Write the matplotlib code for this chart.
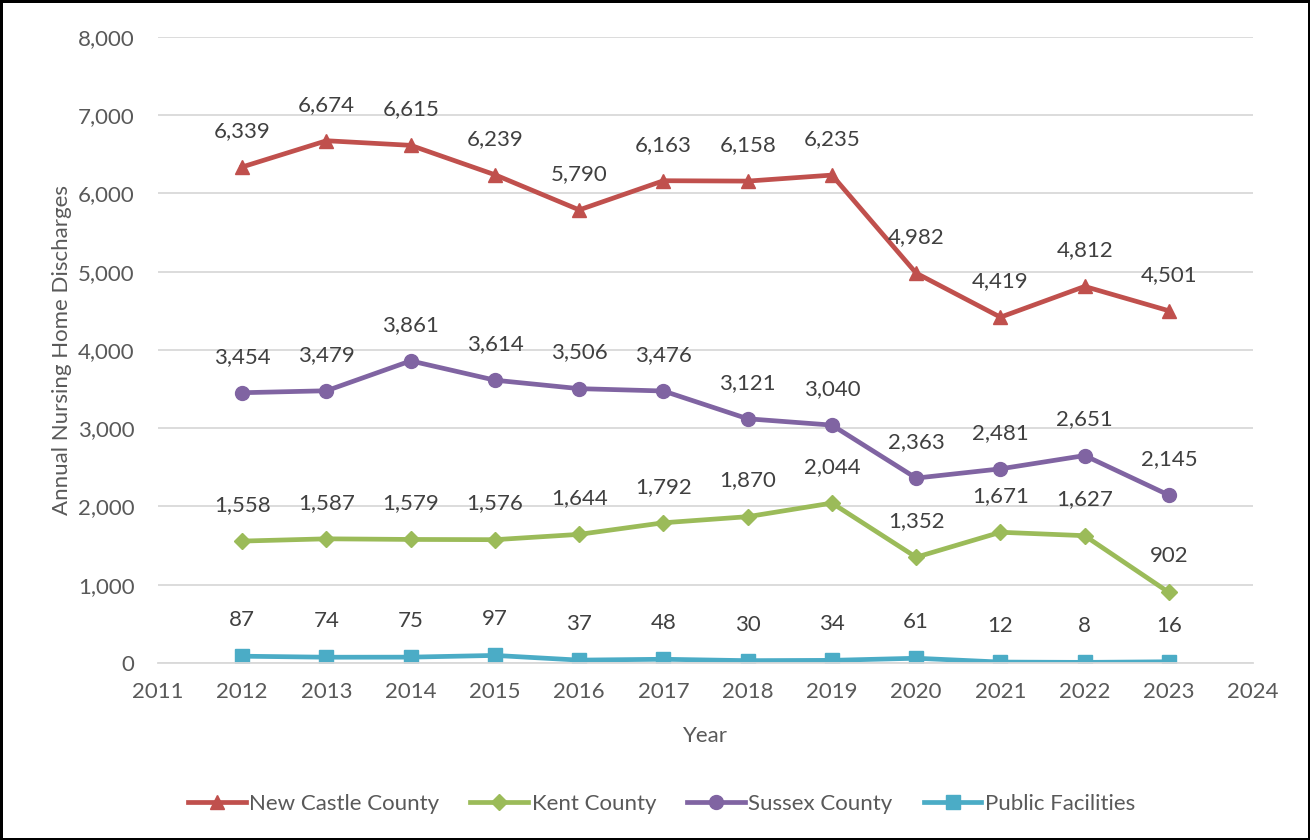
import matplotlib
matplotlib.use("Agg")
import matplotlib.pyplot as plt
from matplotlib.ticker import FuncFormatter, MultipleLocator

plt.rcParams['font.family'] = ['Lato', 'DejaVu Sans']

years = [2012, 2013, 2014, 2015, 2016, 2017, 2018, 2019, 2020, 2021, 2022, 2023]
new_castle = [6339, 6674, 6615, 6239, 5790, 6163, 6158, 6235, 4982, 4419, 4812, 4501]
kent = [1558, 1587, 1579, 1576, 1644, 1792, 1870, 2044, 1352, 1671, 1627, 902]
sussex = [3454, 3479, 3861, 3614, 3506, 3476, 3121, 3040, 2363, 2481, 2651, 2145]
public = [87, 74, 75, 97, 37, 48, 30, 34, 61, 12, 8, 16]

series = [
    ("New Castle County", new_castle, "#C0504D", "^"),
    ("Kent County", kent, "#9BBB59", "D"),
    ("Sussex County", sussex, "#8064A2", "o"),
    ("Public Facilities", public, "#4BACC6", "s"),
]

fig = plt.figure(figsize=(13.1, 8.4), dpi=100)
fig.patch.set_edgecolor("black")
fig.patch.set_linewidth(2.5)
ax = fig.add_axes([0.1206, 0.2107, 0.836, 0.7453])

msizes = {"^": 10, "D": 8, "o": 10, "s": 10}
for name, vals, color, marker in series:
    ax.plot(years, vals, color=color, lw=3.4, marker=marker, ms=msizes[marker],
            label=name, solid_joinstyle="round")
    for x, y in zip(years, vals):
        ax.annotate(f"{y:,}", (x, y), xytext=(0, 26), textcoords="offset points",
                    ha="center", va="center", fontsize=16, color="#404040")

ax.set_xlim(2011, 2024)
ax.set_ylim(0, 8000)
ax.xaxis.set_major_locator(MultipleLocator(1))
ax.yaxis.set_major_locator(MultipleLocator(1000))
ax.yaxis.set_major_formatter(FuncFormatter(lambda v, p: f"{int(v):,}"))
ax.grid(axis="y", color="#D9D9D9", lw=1.3)
ax.set_axisbelow(True)
for s in ["top", "right", "left"]:
    ax.spines[s].set_visible(False)
ax.spines["bottom"].set_color("#D9D9D9")
ax.spines["bottom"].set_linewidth(1.3)
ax.tick_params(axis="both", length=0, labelsize=16, labelcolor="#595959")
ax.tick_params(axis="x", pad=14)
ax.tick_params(axis="y", pad=17)
ax.set_xlabel("Year", fontsize=16, color="#595959", labelpad=17)
ax.set_ylabel("Annual Nursing Home Discharges", fontsize=16, color="#595959", labelpad=4)

leg = fig.legend(loc="center", bbox_to_anchor=(0.505, 0.043), ncol=4, frameon=False,
                 fontsize=16, labelcolor="#595959", handlelength=2.6, columnspacing=1.4,
                 handletextpad=0.15)

fig.savefig("out.png", dpi=100, edgecolor=fig.get_edgecolor())
